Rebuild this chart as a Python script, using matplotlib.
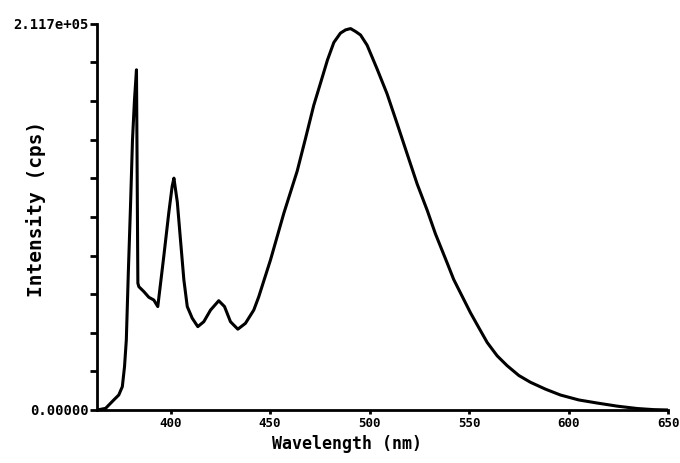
import numpy as np
from matplotlib import pyplot as plt

# Espectro de emision (longitud de onda en nm, intensidad en cps)
wavelength = [363.2, 367.4, 371.5, 374.0, 375.8, 376.9, 377.8, 378.8, 379.9, 380.9,
              381.9, 382.9, 383.6, 384.1, 386.6, 389.1, 391.6, 393.6, 396.6, 399.1,
              400.8, 401.7, 403.4, 405.0, 406.7, 408.4, 410.9, 413.7, 416.7, 420.1,
              424.2, 427.1, 430.1, 433.8, 437.6, 441.8, 444.3, 450.2, 456.9, 463.6,
              467.8, 471.9, 475.3, 478.8, 482.0, 485.3, 487.9, 490.4, 492.9, 495.4,
              498.7, 503.7, 508.7, 513.8, 518.8, 523.8, 528.9, 533.0, 538.9, 542.2,
              546.4, 550.6, 554.8, 559.0, 564.0, 569.0, 574.9, 580.7, 588.3, 595.8,
              605.0, 614.3, 624.3, 634.4, 642.5, 650.0]
intensity = [0, 900, 5500, 8200, 12800, 23800, 38400, 75100, 111700, 148100,
             170000, 186500, 69500, 67600, 64900, 61800, 60300, 56700, 84100, 107900,
             122500, 127100, 114000, 93200, 71300, 56700, 50300, 45700, 48400, 54800,
             59900, 56700, 48400, 44300, 47500, 54800, 62100, 82300, 107900, 131000,
             149000, 167000, 179200, 191900, 201500, 206600, 208400, 209100, 207500, 205600,
             200000, 187000, 173400, 156900, 140400, 124000, 109400, 96600, 80600, 71500,
             62400, 53300, 45100, 37000, 29700, 24300, 18900, 15200, 11400, 8200,
             5500, 3800, 2100, 800, 200, 0]

x_ticks = [400, 450, 500, 550, 600, 650]
y_max = 2.117e+05

fuente = 'DejaVu Sans Mono'

fig = plt.figure(figsize=(6.8, 4.63), dpi=100)
ax = fig.add_axes([0.143, 0.1145, 0.84, 0.834])

ax.plot(wavelength, intensity, color='black', linewidth=2.2,
        solid_joinstyle='round')

ax.set_xlim(363.2, 650)
ax.set_ylim(0, y_max)

ax.spines['top'].set_visible(False)
ax.spines['right'].set_visible(False)
ax.spines['left'].set_linewidth(2)
ax.spines['bottom'].set_linewidth(2)

ax.set_xticks(x_ticks)
ax.set_xticklabels([str(t) for t in x_ticks], fontfamily=fuente,
                   fontweight='bold', fontsize=9)
ax.set_yticks(np.linspace(0, y_max, 11))
ax.set_yticklabels(['0.00000'] + [''] * 9 + ['2.117e+05'], fontfamily=fuente,
                   fontweight='bold', fontsize=10)
ax.tick_params(axis='y', direction='out', width=2, length=5, pad=1)
ax.tick_params(axis='x', direction='out', width=2, length=3, pad=2)

ax.set_xlabel('Wavelength (nm)', fontfamily=fuente, fontweight='bold',
              fontsize=12)
ax.xaxis.set_label_coords(0.438, -0.065)
ax.set_ylabel('Intensity (cps)', fontfamily=fuente, fontweight='bold',
              fontsize=14)
ax.yaxis.set_label_coords(-0.09, 0.52)

plt.savefig('out.png', dpi=100)
